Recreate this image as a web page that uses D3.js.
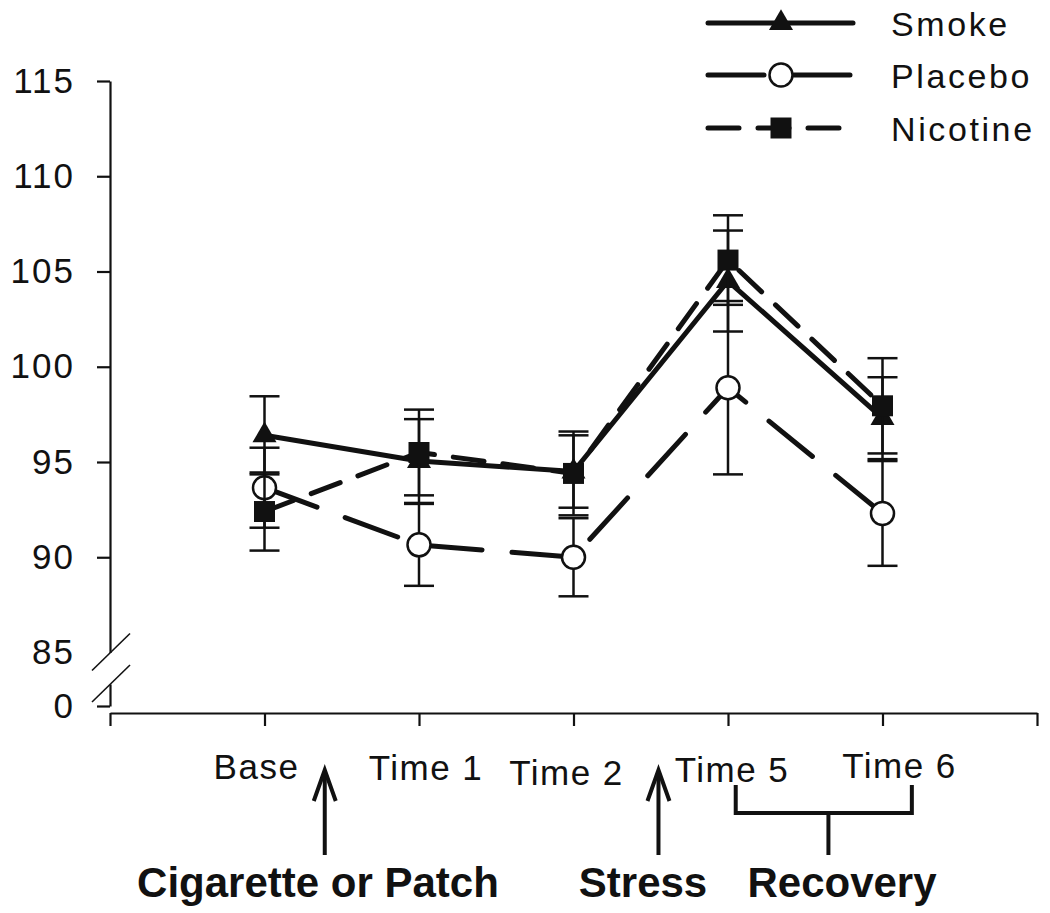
<!DOCTYPE html>
<html>
<head>
<meta charset="utf-8">
<script src="https://cdn.jsdelivr.net/npm/d3@7"></script>
<style>
  html, body { margin: 0; padding: 0; background: #fff; }
  svg { display: block; font-family: Arial, "Liberation Sans", sans-serif; }
</style>
</head>
<body>
<svg id="chart" width="1050" height="913"></svg>
<script>
// ---------- data ----------
const categories = ["Base", "Time 1", "Time 2", "Time 5", "Time 6"];
const seriesNames = ["Smoke", "Placebo", "Nicotine"];
const smokeValues    = [96.4, 95.05, 94.5, 104.5, 97.3];
const smokeErrors    = [2.05, 2.2, 1.9, 2.65, 2.15];
const placeboValues  = [93.65, 90.65, 90.0, 98.9, 92.3];
const placeboErrors  = [2.1, 2.15, 2.05, 4.55, 2.75];
const nicotineValues = [92.4, 95.5, 94.4, 105.6, 97.95];
const nicotineErrors = [2.05, 2.25, 2.2, 2.35, 2.5];
const yTickValues = [85, 90, 95, 100, 105, 110, 115];
const yBreakTickValues = [0];
const eventLabels = ["Cigarette or Patch", "Stress", "Recovery"];

// ---------- layout ----------
const svg = d3.select("#chart");
svg.append("rect").attr("width", 1050).attr("height", 913).attr("fill", "#fff");

const x = d3.scaleLinear().domain([0, 6]).range([110, 1037]);
const y = d3.scaleLinear().domain([85, 115]).range([652.5, 81]);
const yLow = d3.scaleLinear().domain([0, 1]).range([706, 684]);

const labelNudge = [[-8, 0], [7, 1], [-7, 6], [4, 3], [17, -1]];

const series = [
  { name: seriesNames[0], values: smokeValues, errors: smokeErrors, dash: null, marker: "triangle" },
  { name: seriesNames[1], values: placeboValues, errors: placeboErrors, dash: "56,30", marker: "circle" },
  { name: seriesNames[2], values: nicotineValues, errors: nicotineErrors, dash: "31,19", marker: "square" }
];

// ---------- axes ----------
const yAxis = d3.axisLeft(y).tickValues(yTickValues).tickSize(13).tickSizeOuter(0)
  .tickPadding(22).tickFormat(d3.format("d"));
const gy = svg.append("g").attr("transform", "translate(110,0)").call(yAxis);
gy.selectAll(".tick").filter(d => d === 85).select("line").remove();

const yAxisLow = d3.axisLeft(yLow).tickValues(yBreakTickValues).tickSize(13).tickSizeOuter(0)
  .tickPadding(22).tickFormat(d3.format("d"));
const gy2 = svg.append("g").attr("transform", "translate(110,0)").call(yAxisLow);

[gy, gy2].forEach(g => {
  g.select(".domain").attr("stroke", "#111").attr("stroke-width", 2.2);
  g.selectAll(".tick line").attr("stroke", "#111").attr("stroke-width", 2.2);
  g.selectAll(".tick text").attr("font-size", 35).attr("letter-spacing", 2)
    .attr("fill", "#111").attr("font-family", "Arial, 'Liberation Sans', sans-serif");
});

// axis break slashes
[y(85), yLow(1)].forEach(cy => {
  svg.append("line")
    .attr("x1", 110 - 18).attr("y1", cy + 18)
    .attr("x2", 110 + 20).attr("y2", cy - 19)
    .attr("stroke", "#111").attr("stroke-width", 1.6);
});

const xAxis = d3.axisBottom(x).tickValues(d3.range(0, 7)).tickSize(13).tickSizeOuter(0).tickFormat("");
const gx = svg.append("g").attr("transform", "translate(0,713)").call(xAxis);
gx.select(".domain").attr("stroke", "#111").attr("stroke-width", 2.2);
gx.selectAll(".tick line").attr("stroke", "#111").attr("stroke-width", 2.2);

categories.forEach((c, i) => {
  svg.append("text")
    .attr("x", x(i + 1) + labelNudge[i][0])
    .attr("y", 779 + labelNudge[i][1])
    .attr("text-anchor", "middle")
    .attr("font-size", 35).attr("letter-spacing", 1.5).attr("fill", "#111")
    .text(c);
});

// ---------- series ----------
function drawMarker(g, type, cx, cy) {
  if (type === "circle") {
    g.append("circle").attr("cx", cx).attr("cy", cy).attr("r", 11.5)
      .attr("fill", "#fff").attr("stroke", "#111").attr("stroke-width", 2.5);
  } else if (type === "triangle") {
    g.append("path").attr("d", d3.symbol().type(d3.symbolTriangle).size(250)())
      .attr("transform", `translate(${cx},${cy})`).attr("fill", "#111");
  } else {
    g.append("path").attr("d", d3.symbol().type(d3.symbolSquare).size(441)())
      .attr("transform", `translate(${cx},${cy})`).attr("fill", "#111");
  }
}

const line = d3.line().x((d, i) => x(i + 1)).y(d => y(d));

series.forEach(s => {
  const g = svg.append("g");
  // error bars
  s.values.forEach((v, i) => {
    const cx = x(i + 1);
    const top = y(v + s.errors[i]), bot = y(v - s.errors[i]);
    g.append("line").attr("x1", cx).attr("x2", cx).attr("y1", top).attr("y2", bot)
      .attr("stroke", "#111").attr("stroke-width", 2.5);
    [top, bot].forEach(yy => g.append("line").attr("x1", cx - 15).attr("x2", cx + 15)
      .attr("y1", yy).attr("y2", yy).attr("stroke", "#111").attr("stroke-width", 2.5));
  });
  // line
  g.append("path").attr("d", line(s.values)).attr("fill", "none")
    .attr("stroke", "#111").attr("stroke-width", 5).attr("stroke-linecap", "round")
    .attr("stroke-linejoin", "round")
    .attr("stroke-dasharray", s.dash);
  // markers
  s.values.forEach((v, i) => drawMarker(g, s.marker, x(i + 1), y(v)));
});

// ---------- legend ----------
const legendY = [23, 75, 128];
series.forEach((s, k) => {
  const g = svg.append("g");
  g.append("line").attr("x1", 708).attr("x2", 853).attr("y1", legendY[k]).attr("y2", legendY[k])
    .attr("stroke", "#111").attr("stroke-width", 5).attr("stroke-linecap", "round")
    .attr("stroke-dasharray", s.dash);
  drawMarker(g, s.marker, 781, legendY[k]);
  g.append("text").attr("x", 891).attr("y", legendY[k] + 13)
    .attr("font-size", 34).attr("letter-spacing", 2.6).attr("fill", "#111").text(s.name);
});

// ---------- event annotations ----------
function arrow(xi) {
  const ax = x(xi);
  svg.append("line").attr("x1", ax).attr("x2", ax).attr("y1", 855).attr("y2", 772)
    .attr("stroke", "#111").attr("stroke-width", 4);
  svg.append("path").attr("d", `M${ax - 11},${801} L${ax},${770} L${ax + 11},${801}`)
    .attr("fill", "none").attr("stroke", "#111").attr("stroke-width", 4);
}
arrow(1.39);
arrow(3.55);

// recovery bracket
const bx1 = x(4.05), bx2 = x(5.19), bxm = x(4.65);
svg.append("path").attr("d", `M${bx1},785 L${bx1},813 L${bx2},813 L${bx2},785`)
  .attr("fill", "none").attr("stroke", "#111").attr("stroke-width", 4);
svg.append("line").attr("x1", bxm).attr("x2", bxm).attr("y1", 813).attr("y2", 855)
  .attr("stroke", "#111").attr("stroke-width", 4);

const eventX = [318, 643, 842];
eventLabels.forEach((t, i) => {
  svg.append("text").attr("x", eventX[i]).attr("y", 897).attr("text-anchor", "middle")
    .attr("font-size", 42).attr("font-weight", "bold").attr("fill", "#111").text(t);
});
</script>
</body>
</html>
